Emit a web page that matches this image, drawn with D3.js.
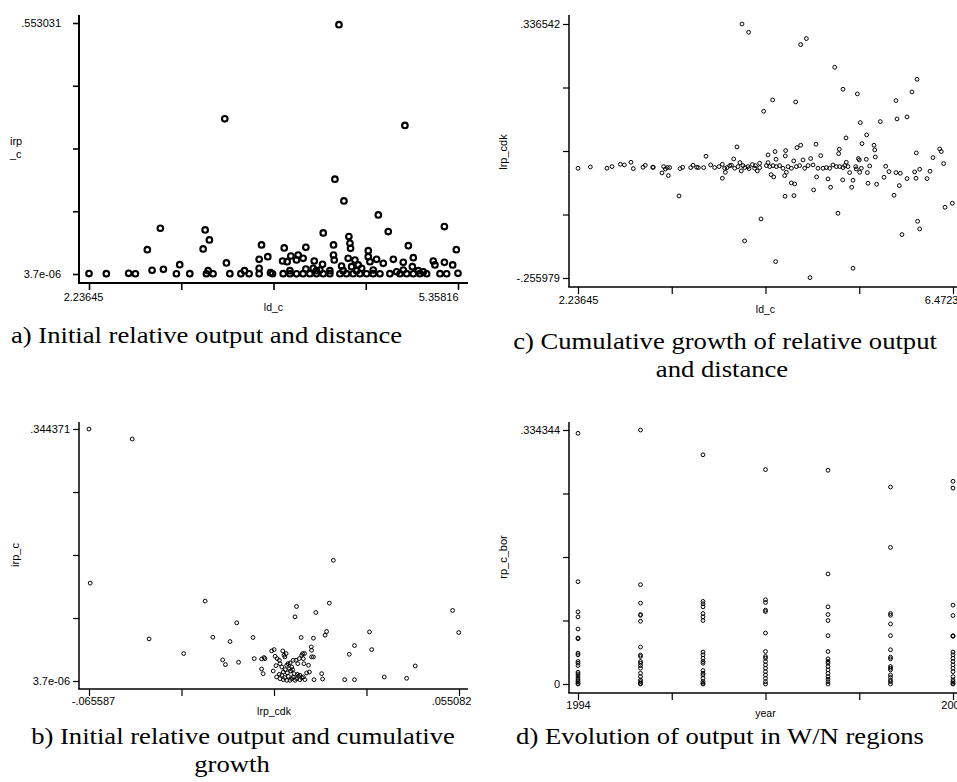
<!DOCTYPE html>
<html><head><meta charset="utf-8">
<script src="https://cdn.jsdelivr.net/npm/d3@7"></script>
<style>body{margin:0;background:#fff}svg{display:block}</style>
</head><body>
<script>
// ---------------- DATA ----------------
// Panel a: ld_c (x) vs irp_c (y)
const pointsA = [
[2.2365,0.001],[2.383,0.0008],[2.572,0.0015],[2.629,0.0005],[2.976,0.0005],[3.089,0.0008],[3.230,0.0005],[3.286,0.0005],
[3.428,0.0008],[3.521,0.0008],[3.591,0.0005],[3.676,0.0008],[3.789,0.0005],[3.879,0.0008],[3.936,0.0005],[3.992,0.0003],
[4.048,0.0008],[4.105,0.0005],[4.161,0.0008],[4.218,0.0005],[4.274,0.0008],[4.359,0.0005],[4.415,0.0008],[4.472,0.0005],
[4.528,0.0008],[4.585,0.0005],[4.641,0.0008],[4.698,0.0005],[4.782,0.0008],[4.867,0.0005],[4.924,0.0008],[4.980,0.0005],
[5.036,0.0008],[5.093,0.0005],[5.206,0.0008],[5.262,0.0005],[5.358,0.0015],
[2.770,0.0081],[2.866,0.0103],[3.004,0.0206],[2.730,0.0537],[2.840,0.1008],[3.202,0.0552],[3.219,0.0971],[3.255,0.0750],
[3.244,0.0074],[3.399,0.0243],[3.385,0.3420],[3.552,0.0074],[3.676,0.0324],[3.696,0.0640],[3.749,0.0382],[3.676,0.0125],
[3.772,0.0030],[3.888,0.0574],[3.874,0.0287],[3.913,0.0272],[3.944,0.0397],[3.992,0.0309],[4.006,0.0419],[4.048,0.0346],
[4.071,0.0588],[4.071,0.0110],[4.142,0.0287],[4.133,0.0125],[4.212,0.0213],[4.218,0.0905],[4.190,0.0088],[4.305,0.0640],
[4.305,0.0419],[4.311,0.0309],[4.317,0.2089],[4.351,0.5494],[4.373,0.0176],[4.393,0.1611],[4.435,0.0824],[4.444,0.0677],
[4.449,0.0566],[4.429,0.0346],[4.486,0.0309],[4.514,0.0199],[4.458,0.0162],[4.543,0.0125],[4.599,0.0515],[4.599,0.0382],
[4.613,0.0272],[4.669,0.0324],[4.684,0.1302],[4.726,0.0235],[4.768,0.0934],[4.811,0.0324],[4.895,0.0257],[4.909,0.3273],
[4.938,0.0625],[4.980,0.0360],[4.972,0.0162],[5.022,0.0074],[5.149,0.0287],[5.163,0.0199],[5.243,0.1044],[5.243,0.0257],
[5.313,0.0199],[5.344,0.0537],[4.274,0.0074],[4.500,0.0074],[4.641,0.0088],[4.839,0.0050],[5.065,0.0050],[4.895,0.0088],
[4.387,0.0074],[3.936,0.0074],[4.161,0.0074]
];
const xTickLabelsA = ["2.23645","5.35816"];
const yTickLabelsA = ["3.7e-06",".553031"];

// Panel c: ld_c (x) vs lrp_cdk (y)
const pointsC = [
[2.2365,0],[2.376,0.0031],[2.564,0],[2.621,0.0039],[2.715,0.0093],[2.760,0.0078],[2.835,0.0140],[2.861,-0.0008],
[2.971,0.0023],[2.997,0.0070],[3.080,0.0023],[3.087,0.0023],[3.185,-0.0109],[3.204,0.0039],[3.223,-0.0016],[3.246,0.0016],
[3.257,-0.0171],[3.272,0.0016],[3.377,-0.0645],[3.389,-0.0008],[3.419,0.0023],[3.509,0.0016],[3.536,0.0070],[3.577,0.0023],
[3.596,0.0016],[3.656,0.0016],[3.682,0.0280],[3.735,0.0078],[3.780,0.0016],[3.829,0.0039],[3.867,-0.0233],[3.867,0.0093],
[3.893,0],[3.901,-0.0093],[3.920,0.0016],[3.950,0.0062],[3.969,0.0070],[3.995,0.0218],[4.006,0],[4.032,0.0498],
[4.044,0.0039],[4.066,0.0132],[4.081,-0.0062],[4.089,0.3365],[4.100,0.0062],[4.119,0.0016],[4.119,-0.1695],[4.157,0.0039],
[4.164,0.3173],[4.168,-0.0008],[4.206,0.0086],[4.232,0],[4.240,0.0062],[4.262,-0.0062],[4.289,0.0016],[4.289,0.0117],
[4.304,-0.1182],[4.334,0.1330],[4.364,0.0062],[4.383,0.0311],[4.383,0.0132],[4.402,0.0039],[4.417,-0.0148],[4.435,0.1594],
[4.439,0.0062],[4.447,-0.0202],[4.462,0.0389],[4.469,-0.2177],[4.473,0.0210],[4.477,0.0039],[4.514,0.0062],[4.552,0],
[4.571,-0.0171],[4.575,-0.0653],[4.578,0.0288],[4.582,0.0412],[4.590,-0.0093],[4.609,0.0039],[4.646,-0.0342],[4.646,0],
[4.673,0.0171],[4.676,-0.0638],[4.684,-0.0365],[4.695,0.1547],[4.703,0.0039],[4.710,0.0482],[4.740,0.0062],[4.752,0.2885],
[4.752,0.0537],[4.778,0.0194],[4.797,0],[4.816,0.3025],[4.835,0.0062],[4.857,-0.2551],[4.865,0.0226],[4.891,0.0078],
[4.898,-0.0505],[4.925,0.0560],[4.932,-0.0202],[4.947,0],[4.978,0.0295],[5.004,0],[5.042,0.0016],[5.060,-0.0249],
[5.079,0],[5.090,-0.0443],[5.117,0.0078],[5.136,0.2356],[5.155,0.0039],[5.173,-0.1050],[5.181,0.0342],[5.188,0.0443],
[5.192,0.0039],[5.226,-0.0272],[5.230,0.1843],[5.230,0.0016],[5.249,0.0062],[5.264,0.0708],[5.267,0.0140],[5.286,0.0039],
[5.305,-0.0101],[5.328,-0.0443],[5.343,-0.0280],[5.343,-0.2333],[5.373,0.0039],[5.380,-0.0016],[5.392,0.1734],[5.403,0.0226],
[5.414,0.0194],[5.418,-0.0093],[5.425,0.1065],[5.437,0],[5.444,0.0575],[5.493,0.0210],[5.497,0.0778],[5.505,-0.0101],
[5.512,-0.0350],[5.531,0.0054],[5.580,0.0537],[5.588,0.0428],[5.595,0.0264],[5.610,-0.0373],[5.651,0.1089],[5.693,-0.0210],
[5.712,0.0047],[5.749,-0.0078],[5.806,-0.0630],[5.828,0.1579],[5.828,-0.0101],[5.840,0.1151],[5.866,-0.0404],[5.877,-0.0117],
[5.896,-0.1547],[5.953,0.1198],[5.953,-0.0241],[6.009,0.1781],[6.039,-0.0086],[6.054,-0.0233],[6.058,0.0358],[6.066,0.2076],
[6.073,-0.1236],[6.096,-0.0023],[6.096,-0.1415],[6.179,-0.0241],[6.213,-0.0070],[6.246,0.0249],[6.322,0.0451],[6.340,0.0389],
[6.367,0.0109],[6.382,-0.0910],[6.465,-0.0816]
];
const xTickLabelsC = ["2.23645","6.4723"];
const yTickLabelsC = ["-.255979",".336542"];

// Panel b: lrp_cdk (x) vs irp_c (y)
const pointsB = [
[-0.0656,0.3443],[-0.0515,0.3307],[-0.0652,0.1338],[-0.0460,0.0575],[-0.0347,0.0375],[-0.0277,0.1092],[-0.0252,0.0598],
[-0.0220,0.0288],[-0.0211,0.0224],[-0.0196,0.0539],[-0.0174,0.0795],[-0.0168,0.0256],[-0.0121,0.0594],[-0.0117,0.0306],
[-0.0093,0.0301],[-0.0093,0.0164],[-0.0088,0.0100],[-0.0085,0.0320],[-0.0082,0.0306],[-0.0060,0.0411],[-0.0052,0.0429],
[-0.0055,0.0137],[-0.0046,0.0210],[-0.0049,0.0338],[-0.0042,0.0306],[-0.0035,0.0283],[-0.0033,0.0237],[-0.0024,0.0411],
[-0.0020,0.0352],[-0.0017,0.0329],[-0.0013,0.0375],[-0.0016,0.0155],[-0.0011,0.0215],[-0.0007,0.0237],[0.0000,0.0247],
[0.0005,0.0192],[0.0010,0.0283],[0.0016,0.0877],[0.0021,0.1018],[0.0019,0.0283],[0.0025,0.0237],[0.0030,0.0306],
[0.0036,0.0594],[0.0038,0.0352],[0.0041,0.0375],[0.0043,0.0306],[0.0047,0.0375],[0.0045,0.0237],[0.0054,0.0110],
[0.0060,0.0215],[0.0063,0.0123],[0.0069,0.0466],[0.0070,0.0420],[0.0070,0.0329],[0.0076,0.0329],[0.0076,0.0585],
[0.0078,0.0018],[0.0084,0.0936],[0.0103,0.0100],[0.0106,0.0027],[0.0114,0.0626],[0.0119,0.0676],[0.0128,0.1064],
[0.0141,0.1649],[0.0178,0.0018],[0.0193,0.0365],[0.0210,0.0484],[0.0210,0.0018],[0.0259,0.0671],[0.0266,0.0429],
[0.0307,0.0055],[0.0380,0.0037],[0.0408,0.0206],[0.0530,0.0964],[0.0550,0.0662],
[-0.0044,0.0055],[-0.0033,0.0032],[-0.0027,0.0078],[-0.0022,0.0018],[-0.0017,0.0046],[-0.0011,0.0009],[-0.0006,0.0064],
[0.0000,0.0009],[0.0005,0.0032],[0.0010,0.0055],[0.0016,0.0009],[0.0021,0.0032],[0.0027,0.0064],[0.0032,0.0018],
[0.0038,0.0046],[0.0043,0.0055],[-0.0022,0.0123],[-0.0009,0.0110],[0.0002,0.0137],[0.0013,0.0100],[0.0024,0.0091],
[0.0008,0.0155],[-0.0002,0.0169],[-0.0027,0.0192],[0.0032,0.0078],[0.0048,0.0018],[-0.0035,0.0091]
];
const xTickLabelsB = ["-.065587",".055082"];
const yTickLabelsB = ["3.7e-06",".344371"];

// Panel d: year (x) vs rp_c_bor (y)
const yearsD = [1994,1995,1996,1997,1998,1999,2000];
const rpD = [
 [0.3300,0.1347,0.0950,0.0883,0.0724,0.0605,0.0596,0.0406,0.0384,0.0296,0.0274,0.0243,0.0155,0.0133,0.0106,0.0075,0.0053,0.0031,0.0009,0],
 [0.3343,0.1307,0.1064,0.0914,0.0905,0.0826,0.0486,0.0380,0.0362,0.0296,0.0274,0.0243,0.0208,0.0141,0.0097,0.0053,0.0031,0.0009,0],
 [0.3017,0.1087,0.1056,0.1016,0.0928,0.0883,0.0835,0.0420,0.0384,0.0340,0.0296,0.0274,0.0177,0.0141,0.0119,0.0075,0.0031,0.0009,0],
 [0.2822,0.1109,0.1073,0.0972,0.0954,0.0671,0.0428,0.0362,0.0340,0.0296,0.0252,0.0208,0.0163,0.0119,0.0075,0.0031,0],
 [0.2813,0.1449,0.1016,0.0914,0.0835,0.0636,0.0428,0.0331,0.0296,0.0274,0.0230,0.0186,0.0141,0.0097,0.0062,0.0031,0],
 [0.2593,0.1798,0.0928,0.0905,0.0791,0.0636,0.0451,0.0353,0.0331,0.0230,0.0208,0.0186,0.0119,0.0088,0.0053,0.0031,0],
 [0.2668,0.2579,0.1038,0.0901,0.0636,0.0627,0.0420,0.0384,0.0340,0.0296,0.0252,0.0208,0.0163,0.0097,0.0053,0.0031,0.0009,0]
];
const xTickLabelsD = ["1994","2000"];
const yTickLabelsD = ["0",".334344"];

const captions = [
 {lines:["a) Initial relative output and distance"], x:[11], anchor:"start", y:343},
 {lines:["c) Cumulative growth of relative output","and distance"], x:[725,722], anchor:"middle", y:349},
 {lines:["b) Initial relative output and cumulative","growth"], x:[243,232], anchor:"middle", y:744},
 {lines:["d) Evolution of output in W/N regions"], x:[720], anchor:"middle", y:744}
];

// ---------------- DRAW ----------------
const W = 957, H = 782;
const FONT = "'Liberation Sans', Arial, sans-serif";
const svg = d3.select("body").append("svg").attr("width", W).attr("height", H);
svg.append("rect").attr("width", W).attr("height", H).attr("fill", "#fff");

function panel(o) {
  const g = svg.append("g");
  const x = d3.scaleLinear().domain(o.xDomain).range(o.xRange);
  const y = d3.scaleLinear().domain(o.yDomain).range(o.yRange);
  const xt = d3.range(5).map(i => o.xDomain[0] + i * (o.xDomain[1] - o.xDomain[0]) / 4);
  const yt = d3.range(5).map(i => o.yDomain[0] + i * (o.yDomain[1] - o.yDomain[0]) / 4);

  // axis lines
  g.append("line").attr("x1", o.ax).attr("x2", o.ax).attr("y1", o.axTop).attr("y2", o.ay)
    .attr("stroke", "#000").attr("stroke-width", o.sw);
  g.append("line").attr("x1", o.ax - o.sw/2).attr("x2", o.axRight).attr("y1", o.ay).attr("y2", o.ay)
    .attr("stroke", "#000").attr("stroke-width", o.sw);

  // y axis
  const ya = g.append("g").attr("transform", `translate(${o.ax},0)`)
    .call(d3.axisLeft(y).tickValues(yt).tickSize(6).tickSizeOuter(0).tickPadding(o.yPad)
      .tickFormat((d, i) => i === 0 ? o.yLabels[0] : i === 4 ? o.yLabels[1] : ""));
  ya.select(".domain").remove();
  ya.attr("font-family", FONT).attr("font-size", 11);
  ya.selectAll("line").attr("stroke-width", o.sw * 0.8);
  ya.selectAll("text").attr("fill", "#000");

  // x axis
  const xa = g.append("g").attr("transform", `translate(0,${o.ay})`)
    .call(d3.axisBottom(x).tickValues(xt).tickSize(7).tickSizeOuter(0).tickPadding(o.xPad)
      .tickFormat((d, i) => i === 0 ? o.xLabels[0] : i === 4 ? o.xLabels[1] : ""));
  xa.select(".domain").remove();
  xa.attr("font-family", FONT).attr("font-size", 11);
  xa.selectAll("line").attr("stroke-width", o.sw * 0.8);
  xa.selectAll("text").attr("fill", "#000")
    .attr("text-anchor", (d, i) => o.xAnchor[i === 0 ? 0 : 1])
    .attr("dx", (d, i) => i === 0 ? o.xDx[0] : o.xDx[1]);

  // x title
  g.append("text").attr("x", x((o.xDomain[0] + o.xDomain[1]) / 2)).attr("y", o.xTitleY)
    .attr("text-anchor", "middle").attr("font-family", FONT).attr("font-size", 10.5)
    .text(o.xTitle);

  // y title
  if (o.yTitleLines) {
    o.yTitleLines.forEach((t, i) => {
      g.append("text").attr("x", o.yTitleX).attr("y", o.yTitleY + i * 13)
        .attr("font-family", FONT).attr("font-size", 11).text(t);
    });
  } else {
    g.append("text").attr("transform", `translate(${o.yTitleX},${o.yTitleY}) rotate(-90)`)
      .attr("text-anchor", "middle").attr("font-family", FONT).attr("font-size", 11)
      .text(o.yTitle);
  }

  // points
  g.append("g").selectAll("circle").data(o.points).join("circle")
    .attr("cx", d => x(d[0])).attr("cy", d => y(d[1]))
    .attr("r", o.r).attr("fill", "none").attr("stroke", "#000").attr("stroke-width", o.msw);
}

// a
panel({
  points: pointsA, xDomain: [2.23645, 5.35816], yDomain: [3.7e-06, 0.553031],
  xRange: [89, 458], yRange: [274, 23], ax: 79, ay: 283, axTop: 15, axRight: 468, sw: 2,
  yPad: 12, xPad: 3, xLabels: xTickLabelsA, yLabels: yTickLabelsA,
  xAnchor: ["middle", "end"], xDx: [-6, 0],
  xTitle: "ld_c", xTitleY: 311, yTitleLines: ["irp", "_c"], yTitleX: 10, yTitleY: 145,
  r: 2.8, msw: 2.1
});
// c
panel({
  points: pointsC, xDomain: [2.23645, 6.4723], yDomain: [-0.255979, 0.336542],
  xRange: [578, 953], yRange: [278, 24], ax: 569, ay: 287, axTop: 15, axRight: 957, sw: 1.5,
  yPad: 3, xPad: 2, xLabels: xTickLabelsC, yLabels: yTickLabelsC,
  xAnchor: ["middle", "end"], xDx: [0, 5],
  xTitle: "ld_c", xTitleY: 313, yTitle: "lrp_cdk", yTitleX: 507, yTitleY: 152,
  r: 1.9, msw: 1
});
// b
panel({
  points: pointsB, xDomain: [-0.065587, 0.055082], yDomain: [3.7e-06, 0.344371],
  xRange: [89, 459], yRange: [681, 429], ax: 79, ay: 689, axTop: 422, axRight: 468, sw: 1.5,
  yPad: 3, xPad: 1, xLabels: xTickLabelsB, yLabels: yTickLabelsB,
  xAnchor: ["middle", "middle"], xDx: [4, -8],
  xTitle: "lrp_cdk", xTitleY: 715, yTitle: "irp_c", yTitleX: 19, yTitleY: 555,
  r: 1.9, msw: 1
});
// d
const pointsD = yearsD.flatMap((yr, i) => rpD[i].map(v => [yr, v]));
panel({
  points: pointsD, xDomain: [1994, 2000], yDomain: [0, 0.334344],
  xRange: [578, 953], yRange: [684, 430], ax: 569, ay: 693, axTop: 422, axRight: 957, sw: 1.5,
  yPad: 3, xPad: 1, xLabels: xTickLabelsD, yLabels: yTickLabelsD,
  xAnchor: ["middle", "middle"], xDx: [0, 0],
  xTitle: "year", xTitleY: 717, yTitle: "rp_c_bor", yTitleX: 507, yTitleY: 557,
  r: 1.9, msw: 1
});

// captions: condensed-looking Times text (horizontal stretch of a 24px serif)
captions.forEach(c => {
  c.lines.forEach((line, i) => {
    svg.append("text")
      .attr("transform", `translate(${c.x[i]},${c.y + i * 28}) scale(1.11,1)`)
      .attr("text-anchor", c.anchor)
      .attr("font-family", "'Liberation Serif', 'Times New Roman', serif")
      .attr("font-size", 24).attr("fill", "#000").text(line);
  });
});
</script>
</body></html>
